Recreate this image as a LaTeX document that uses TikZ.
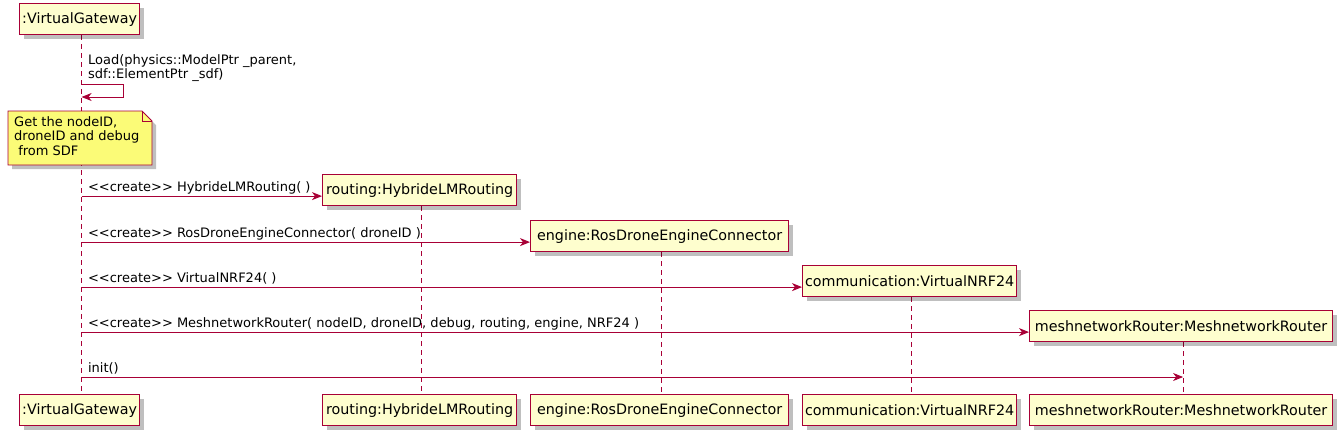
\documentclass[tikz,border=0pt]{standalone}
\usepackage{fontspec}
\setmainfont{DejaVu Sans}
\usetikzlibrary{arrows.meta,positioning,shadows}

\definecolor{umlred}{HTML}{A80036}
\definecolor{umlfill}{HTML}{FEFECE}
\definecolor{notefill}{HTML}{FBFB77}

\pgfdeclarelayer{background}
\pgfsetlayers{background,main}

\tikzset{
  lifebox/.style={draw=umlred, fill=umlfill, line width=1.2pt, anchor=north west,
    minimum height=31pt, inner xsep=0pt, font=\fontsize{14.3}{16}\selectfont,
    drop shadow={shadow xshift=4pt, shadow yshift=-4pt, fill=black, opacity=0.25}},
  lifeline/.style={draw=umlred, line width=1pt, dash pattern=on 5pt off 4pt},
  msg/.style={draw=umlred, line width=0.9pt, -{Stealth[length=10pt,width=8pt,inset=3pt]}},
  msglabel/.style={font=\fontsize{13}{15}\selectfont, text=black, inner sep=0pt, anchor=base west},
}

\begin{document}
\begin{tikzpicture}[x=1pt,y=-1pt]
\useasboundingbox (0,0) rectangle (1341,434);

% participants, top and bottom
\node[lifebox, minimum width=120pt] (vg) at (19,3) {:VirtualGateway};
\node[lifebox, minimum width=120pt] (vgEnd) at (19,394) {:VirtualGateway};
\node[lifebox, minimum width=194pt] (routing) at (322,174) {routing:HybrideLMRouting};
\node[lifebox, minimum width=194pt] (routingEnd) at (322,394) {routing:HybrideLMRouting};
\node[lifebox, minimum width=258pt] (engine) at (530,220) {engine:RosDroneEngineConnector};
\node[lifebox, minimum width=258pt] (engineEnd) at (530,394) {engine:RosDroneEngineConnector};
\node[lifebox, minimum width=214pt] (comm) at (802,265) {communication:VirtualNRF24};
\node[lifebox, minimum width=214pt] (commEnd) at (802,394) {communication:VirtualNRF24};
\node[lifebox, minimum width=303pt] (mesh) at (1029,310) {meshnetworkRouter:MeshnetworkRouter};
\node[lifebox, minimum width=303pt] (meshEnd) at (1029,394) {meshnetworkRouter:MeshnetworkRouter};

% lifelines, behind everything
\begin{pgfonlayer}{background}
\draw[lifeline] ([xshift=2pt]vg.south) -- ([xshift=2pt]vgEnd.north);
\draw[lifeline] ([xshift=2pt]routing.south) -- ([xshift=2pt]routingEnd.north);
\draw[lifeline] ([xshift=2pt]engine.south) -- ([xshift=2pt]engineEnd.north);
\draw[lifeline] ([xshift=2pt]comm.south) -- ([xshift=2pt]commEnd.north);
\draw[lifeline] ([xshift=2pt]mesh.south) -- ([xshift=2pt]meshEnd.north);
\end{pgfonlayer}

% self message
\coordinate (loopA) at (123,84);
\coordinate (loopB) at (123,97);
\draw[msg] ([xshift=2pt]vg.south |- loopA) -- (loopA) -- (loopB) -- ([xshift=2pt]vg.south |- loopB);
\node[font=\fontsize{13}{14}\selectfont, align=left, inner sep=0pt, anchor=south west] (lblLoad) at (88,82)
  {Load(physics::ModelPtr \_parent,\\sdf::ElementPtr \_sdf)};

% note
\draw[draw=umlred, fill=notefill, line width=0.8pt,
  drop shadow={shadow xshift=4pt, shadow yshift=-4pt, fill=black, opacity=0.25}]
  (8,111) -- (142,111) -- (152,121) -- (152,165) -- (8,165) -- cycle;
\draw[umlred, line width=0.8pt] (142,111) -- (142,121) -- (152,121);
\node[font=\fontsize{13}{14.6}\selectfont, align=left, inner sep=0pt, anchor=north west] (note) at (14,116)
  {Get the nodeID,\\droneID and debug\\\mbox{}\ from SDF};

% create messages
\coordinate (toRouting) at ([yshift=-6pt]routing.west);
\coordinate (toEngine) at ([yshift=-6pt]engine.west);
\coordinate (toComm) at ([yshift=-6pt]comm.west);
\coordinate (toMesh) at ([yshift=-6pt]mesh.west);
\coordinate (initRow) at (0,377);

\draw[msg] ([xshift=2pt]vg.south |- toRouting) -- (toRouting)
  node[msglabel, pos=0, xshift=6pt, yshift=5pt] (lblRouting) {<{}<create>{}> HybrideLMRouting( )};
\draw[msg] ([xshift=2pt]vg.south |- toEngine) -- (toEngine)
  node[msglabel, pos=0, xshift=6pt, yshift=5pt] (lblEngine) {<{}<create>{}> RosDroneEngineConnector( droneID )};
\draw[msg] ([xshift=2pt]vg.south |- toComm) -- (toComm)
  node[msglabel, pos=0, xshift=6pt, yshift=5pt] (lblComm) {<{}<create>{}> VirtualNRF24( )};
\draw[msg] ([xshift=2pt]vg.south |- toMesh) -- (toMesh)
  node[msglabel, pos=0, xshift=6pt, yshift=5pt] (lblMesh) {<{}<create>{}> MeshnetworkRouter( nodeID, droneID, debug, routing, engine, NRF24 )};
\draw[msg] ([xshift=2pt]vg.south |- initRow) -- ([xshift=2pt]mesh.south |- initRow)
  node[msglabel, pos=0, xshift=6pt, yshift=5pt] (lblInit) {init()};
\end{tikzpicture}
\end{document}
